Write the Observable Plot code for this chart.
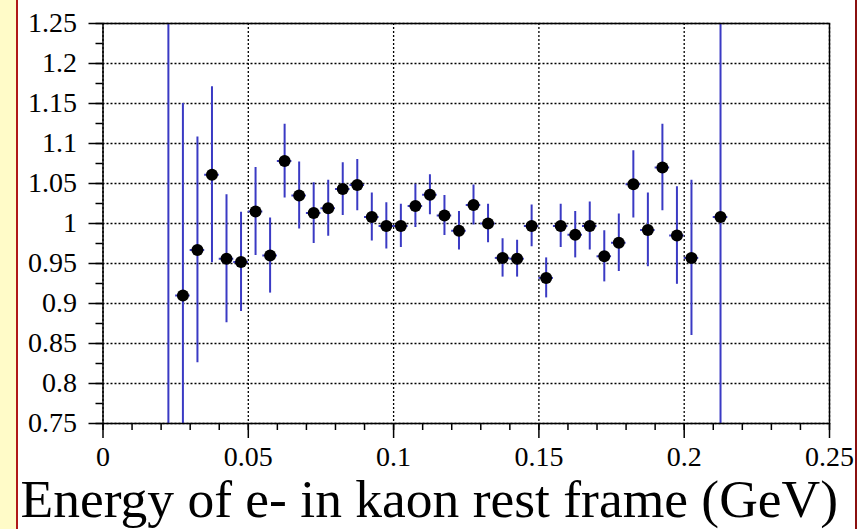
<!DOCTYPE html>
<html>
<head>
<meta charset="utf-8">
<script src="https://cdn.jsdelivr.net/npm/d3@7"></script>
<script src="https://cdn.jsdelivr.net/npm/@observablehq/plot@0.6"></script>
<style>
  html, body { margin: 0; padding: 0; background: #ffffff; }
  #wrap {
    position: relative; width: 858px; height: 529px; overflow: hidden;
    background: linear-gradient(to right, #fffbc8 0px, #fffbc8 16px, #b01818 16px, #b01818 18px, #ffffff 18px, #ffffff 855px, #8a1010 855px, #8a1010 857px, #ffffff 857px);
  }
  #wrap svg { position: absolute; left: 0; top: 0; }
</style>
</head>
<body>
<div id="wrap"></div>
<script>
// Bin centres (GeV), ratio values and their errors
const energy = [0.0225, 0.0275, 0.0325, 0.0375, 0.0425, 0.0475, 0.0525, 0.0575, 0.0625, 0.0675,
                0.0725, 0.0775, 0.0825, 0.0875, 0.0925, 0.0975, 0.1025, 0.1075, 0.1125, 0.1175,
                0.1225, 0.1275, 0.1325, 0.1375, 0.1425, 0.1475, 0.1525, 0.1575, 0.1625, 0.1675,
                0.1725, 0.1775, 0.1825, 0.1875, 0.1925, 0.1975, 0.2025, 0.2125];
const ratio  = [0.70, 0.910, 0.967, 1.061, 0.956, 0.952, 1.015, 0.960, 1.078, 1.035,
                1.013, 1.019, 1.043, 1.048, 1.008, 0.997, 0.997, 1.022, 1.036, 1.010,
                0.991, 1.023, 1.000, 0.957, 0.956, 0.997, 0.932, 0.997, 0.986, 0.997,
                0.959, 0.976, 1.049, 0.992, 1.070, 0.985, 0.957, 1.008];
const err    = [0.60, 0.240, 0.141, 0.110, 0.080, 0.062, 0.055, 0.047, 0.046, 0.042,
                0.038, 0.035, 0.033, 0.032, 0.030, 0.029, 0.027, 0.027, 0.025, 0.025,
                0.024, 0.025, 0.024, 0.024, 0.023, 0.026, 0.025, 0.027, 0.029, 0.030,
                0.032, 0.036, 0.042, 0.046, 0.054, 0.061, 0.097, 0.50];
const binHalfWidth = 0.0025;

const xMajor = [0, 0.05, 0.1, 0.15, 0.2, 0.25];
const xMajorLabels = ["0", "0.05", "0.1", "0.15", "0.2", "0.25"];
const xMinor = d3.range(0, 26).map(i => i / 100);
const yMajor = [0.75, 0.8, 0.85, 0.9, 0.95, 1, 1.05, 1.1, 1.15, 1.2, 1.25];
const yMajorLabels = ["0.75", "0.8", "0.85", "0.9", "0.95", "1", "1.05", "1.1", "1.15", "1.2", "1.25"];
const yMinor = d3.range(0, 21).map(i => 0.75 + i * 0.025);
const xTitle = "Energy of e- in kaon rest frame (GeV)";

const data = energy.map((e, i) => ({x: e, y: ratio[i], lo: ratio[i] - err[i], hi: ratio[i] + err[i],
                                    x1: e - binHalfWidth, x2: e + binHalfWidth}));

const blue = "#3a3ac4";
const chart = Plot.plot({
  width: 858,
  height: 529,
  marginLeft: 102.5,
  marginRight: 29,
  marginTop: 23,
  marginBottom: 106,
  style: {fontFamily: "'Liberation Serif', 'Times New Roman', serif", background: "transparent", color: "black"},
  x: {domain: [0, 0.25], axis: null},
  y: {domain: [0.75, 1.25], axis: null},
  marks: [
    Plot.gridX(xMajor, {stroke: "black", strokeOpacity: 1, strokeWidth: 1.3, strokeDasharray: "2,2"}),
    Plot.gridY(yMajor, {stroke: "black", strokeOpacity: 1, strokeWidth: 1.3, strokeDasharray: "2,2"}),
    Plot.ruleX(data, {x: "x", y1: "lo", y2: "hi", stroke: blue, strokeWidth: 2, clip: true}),
    Plot.ruleY(data, {y: "y", x1: "x1", x2: "x2", stroke: blue, strokeWidth: 2, clip: true}),
    Plot.dot(data, {x: "x", y: "y", r: 6, fill: "black", stroke: "none", clip: true}),
    Plot.frame({stroke: "black", strokeWidth: 1.5}),
    Plot.axisY({ticks: yMajor, tickSize: 14, tickPadding: 12, fontSize: 28, label: null,
                tickFormat: d => yMajorLabels[yMajor.indexOf(d)], strokeWidth: 1.5}),
    Plot.axisY({ticks: yMinor, tickSize: 7, label: null, tickFormat: () => "", strokeWidth: 1.5}),
    Plot.axisX({ticks: xMajor, tickSize: 15, tickPadding: 8, fontSize: 28, label: null,
                tickFormat: d => xMajorLabels[xMajor.indexOf(d)], strokeWidth: 1.5}),
    Plot.axisX({ticks: xMinor, tickSize: 7, label: null, tickFormat: () => "", strokeWidth: 1.5}),
    Plot.text([xTitle], {frameAnchor: "bottom-left", textAnchor: "start", dx: -82.5, dy: 93,
                         fontSize: 53.5, fill: "black"})
  ]
});
document.getElementById("wrap").appendChild(chart);
</script>
</body>
</html>
